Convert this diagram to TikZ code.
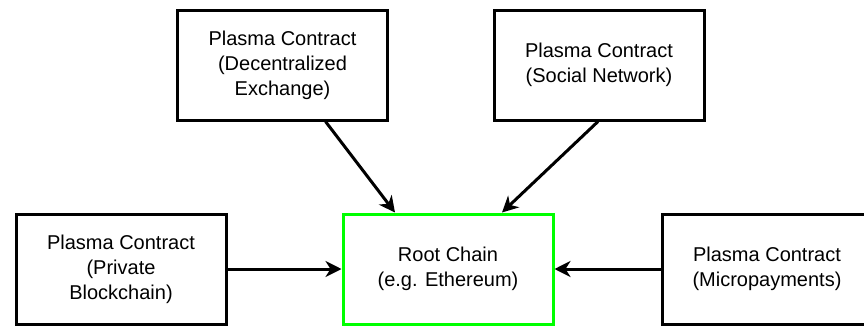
\documentclass[tikz,border=0pt]{standalone}
\usepackage{fontspec}
\setmainfont{Liberation Sans}
\usetikzlibrary{arrows.meta}
\definecolor{rootgreen}{HTML}{00FF00}
\tikzstyle{contract}=[rectangle,draw=black,line width=3pt,minimum width=210pt,minimum height=110pt,inner sep=0pt,align=center,font=\fontsize{20}{25}\selectfont]
\tikzstyle{rootchain}=[contract,draw=rootgreen]
\tikzstyle{edge}=[draw,line width=3pt,-{Stealth[length=16pt,width=16pt,inset=5pt]}]

\begin{document}
\begin{tikzpicture}[x=1pt,y=1pt]
    \useasboundingbox (0,0) rectangle (864,325);

    \foreach \pos/\name/\label in {{(282.5,260)/dex/{Plasma Contract\\(Decentralized\\Exchange)}}, {(599,260)/social/{Plasma Contract\\(Social Network)}}, {(121,56)/private/{Plasma Contract\\(Private\\Blockchain)}}, {(767,56)/micro/{Plasma Contract\\(Micropayments)}}}
        \node[contract] (\name) at \pos {\label};

    \node[rootchain] (root) at (448,56) {Root Chain\\(e.g. Ethereum)};

    \path[edge] ([xshift=43pt]dex.south) -- ([xshift=-53pt]root.north);
    \path[edge] ([xshift=-1pt]social.south) -- ([xshift=54pt]root.north);

    \foreach \source/\dest in {private/root, micro/root}
        \path[edge] (\source) -- (\dest);

\end{tikzpicture}
\end{document}
